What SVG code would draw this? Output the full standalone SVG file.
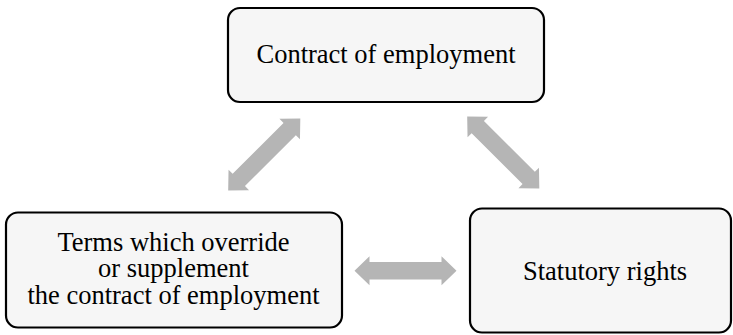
<svg xmlns="http://www.w3.org/2000/svg" xmlns:xlink="http://www.w3.org/1999/xlink" width="733" height="335" viewBox="0 0 733 335">
  <style>
    .box { fill: #f6f6f6; stroke: #000000; stroke-width: 2.2; }
    .lbl { font-family: "Liberation Serif", "Times New Roman", serif; font-size: 26.5px; fill: #000000; text-anchor: middle; }
    .arr { fill: #b5b5b5; stroke: none; }
  </style>
  <defs>
    <path id="dblArrow" d="M-51,0 L-36,-14.5 L-36,-8.7 L36,-8.7 L36,-14.5 L51,0 L36,14.5 L36,8.7 L-36,8.7 L-36,14.5 Z"/>
  </defs>
  <rect width="733" height="335" fill="#ffffff"/>

  <g id="connectors">
    <use xlink:href="#dblArrow" href="#dblArrow" class="arr" transform="translate(264.25,154.5) rotate(-45)"/>
    <use xlink:href="#dblArrow" href="#dblArrow" class="arr" transform="translate(503.25,152.5) rotate(45)"/>
    <use xlink:href="#dblArrow" href="#dblArrow" class="arr" transform="translate(405.5,270.7)"/>
  </g>

  <g id="node-contract">
    <rect class="box" x="228" y="8" width="316" height="94" rx="12" ry="12"/>
    <text class="lbl" x="386" y="63.3">Contract of employment</text>
  </g>

  <g id="node-terms">
    <rect class="box" x="6" y="212.5" width="336" height="115" rx="12" ry="12"/>
    <text class="lbl" x="173.5" y="250.5">Terms which override</text>
    <text class="lbl" x="173.5" y="277">or supplement</text>
    <text class="lbl" x="173.5" y="303.5">the contract of employment</text>
  </g>

  <g id="node-statutory">
    <rect class="box" x="470" y="208.5" width="261" height="124" rx="12" ry="12"/>
    <text class="lbl" x="605" y="280">Statutory rights</text>
  </g>
</svg>
